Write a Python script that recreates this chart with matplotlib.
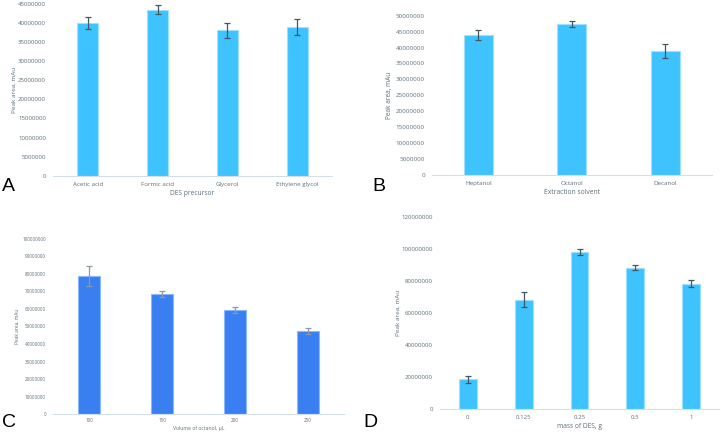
#!/usr/bin/env python3
"""Four-panel bar chart of peak areas for the DES extraction optimisation."""

import matplotlib

matplotlib.use("Agg")
import matplotlib.pyplot as plt

# Panel A: DES precursor
precursors = ["Acetic acid", "Formic acid", "Glycerol", "Ethylene glycol"]
precursor_area = [40000000, 43400000, 38000000, 38900000]
precursor_err = [1600000, 1100000, 2000000, 2050000]

# Panel B: extraction solvent
solvents = ["Heptanol", "Octanol", "Decanol"]
solvent_area = [43900000, 47400000, 38900000]
solvent_err = [1550000, 1050000, 2100000]

# Panel C: volume of octanol
volumes = ["100", "150", "200", "250"]
volume_area = [78600000, 68300000, 59400000, 47400000]
volume_err = [5600000, 1700000, 1500000, 1550000]

# Panel D: mass of DES
masses = ["0", "0.125", "0.25", "0.5", "1"]
mass_area = [18600000, 68300000, 98200000, 88200000, 78300000]
mass_err = [2400000, 4800000, 1900000, 1650000, 2050000]

W, H = 721, 434
TEXT = "#5d7078"
FONT = ["Open Sans", "DejaVu Sans"]


def px_axes(fig, left, right, top, bottom):
    return fig.add_axes([left / W, (H - bottom) / H, (right - left) / W, (bottom - top) / H])


def panel(fig, box, cats, vals, errs, ymax, step, xlabel, color, edge, ecolor,
          fs, ylab_x, tick_pad, xtick_pad, xlab_pad, bar_w):
    ax = px_axes(fig, *box)
    x = range(len(cats))
    ax.bar(x, vals, width=bar_w, color=color, edgecolor=edge, linewidth=0.8, zorder=2)
    ax.errorbar(x, vals, yerr=errs, fmt="none", ecolor=ecolor, elinewidth=0.9,
                capsize=2.0, capthick=0.9, zorder=3)
    ax.set_xlim(-0.5, len(cats) - 0.5)
    ax.set_ylim(0, ymax)
    ax.set_yticks(range(0, ymax + 1, step))
    ax.set_yticklabels([str(v) for v in range(0, ymax + 1, step)], fontsize=fs,
                       color=TEXT, family=FONT)
    ax.set_xticks(list(x))
    ax.set_xticklabels(cats, fontsize=fs, color=TEXT, family=FONT)
    ax.tick_params(axis="y", length=0, pad=tick_pad)
    ax.tick_params(axis="x", length=0, pad=xtick_pad)
    for side in ("top", "right", "left"):
        ax.spines[side].set_visible(False)
    ax.spines["bottom"].set_color("#d3dfe6")
    ax.spines["bottom"].set_linewidth(0.8)
    ax.set_xlabel(xlabel, fontsize=fs + 0.4, color=TEXT, family=FONT, labelpad=xlab_pad)
    ax.set_ylabel("Peak area, mAu", fontsize=fs + 0.2, color=TEXT, family=FONT)
    ax.yaxis.set_label_coords(ylab_x, 0.5)
    return ax


fig = plt.figure(figsize=(W / 100, H / 100), dpi=100)

blue = "#3ec3fe"
blue_edge = "#9fe0ff"
dark_blue = "#3a7ff2"
dark_edge = "#8ab8ff"

panel(fig, (53, 332, 3.5, 176), precursors, precursor_area, precursor_err,
      45000000, 5000000, "DES precursor", blue, blue_edge, "#44575f",
      4.4, -0.13, 5, 4, 2.5, 0.3)
panel(fig, (431.7, 711.7, 15.7, 175), solvents, solvent_area, solvent_err,
      50000000, 5000000, "Extraction solvent", blue, blue_edge, "#44575f",
      4.5, -0.14, 5, 4, 2.5, 0.31)
panel(fig, (53, 344, 238.7, 414.3), volumes, volume_area, volume_err,
      100000000, 10000000, "Volume of octanol, μL", dark_blue, dark_edge, "#8a9ba2",
      3.3, -0.115, 5, 3, 1.5, 0.3)
panel(fig, (440, 719, 216.7, 409.3), masses, mass_area, mass_err,
      120000000, 20000000, "mass of DES, g", blue, blue_edge, "#44575f",
      4.4, -0.14, 5, 4, 2.5, 0.32)

for letter, x, y in (("A", 2, 191), ("B", 372, 191), ("C", 2, 427), ("D", 363, 427)):
    fig.text(x / W, (H - y) / H, letter, fontsize=14, family=["Liberation Sans", "DejaVu Sans"],
             color="black", ha="left", va="baseline")

fig.savefig("out.png", dpi=100)
